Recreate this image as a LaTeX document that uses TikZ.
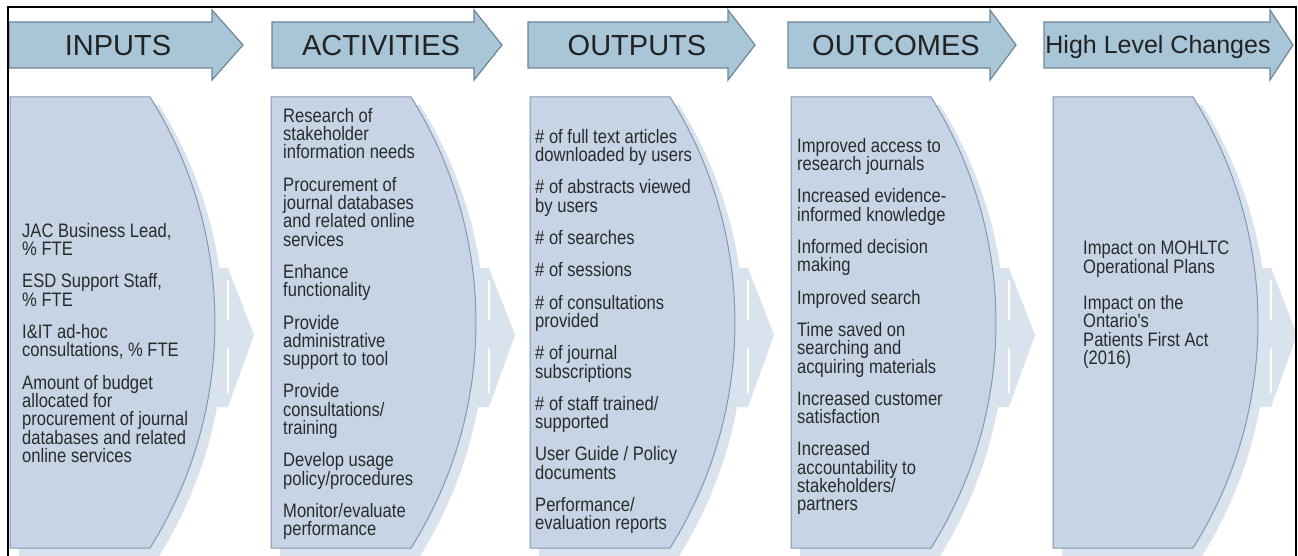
\documentclass[tikz,border=0pt]{standalone}
\usepackage{fontspec}
\setmainfont{Liberation Sans}
\newfontfamily\bodyfont[FakeStretch=0.85]{Liberation Sans}
\definecolor{boxfill}{HTML}{C6D4E5}
\definecolor{boxline}{HTML}{8496B2}
\definecolor{halo}{HTML}{D9E3EE}
\definecolor{hdrfill}{HTML}{A8C6D7}
\definecolor{hdrline}{HTML}{6E8797}
\definecolor{txt}{HTML}{222222}
\definecolor{bodytxt}{HTML}{2A2A2A}
\tikzset{
  hdr/.style={fill=hdrfill, draw=hdrline, line width=1.2pt, line join=miter},
  bx/.style={fill=boxfill, draw=boxline, line width=1pt},
  hl/.style={fill=halo},
  slit/.style={draw=white, line width=2.5pt},
  hdrtext/.style={anchor=base, inner sep=0pt, text=txt, font=\fontsize{29}{30}\selectfont},
  bodytext/.style={anchor=north west, inner sep=0pt, align=left, text=bodytxt,
    font=\bodyfont\fontsize{19.5}{18.3}\selectfont},
}
\newcommand\hdrarrow[3]{%
  \path[hdr] (#1,22) -- (#2,22) -- (#2,10) -- (#3,45) -- (#2,80) -- (#2,68) -- (#1,68) -- cycle;}
\newcommand\colshape[1]{%
  \begin{scope}[shift={(#1,0)}]
    \path[hl] (9,105) -- (149,105) .. controls (235.6,242.4) and (235.6,417.6) .. (149,556) -- (9,556) -- cycle;
    \path[hl] (200,268) -- (218,268) -- (244,335) -- (218,407) -- (200,407) -- cycle;
    \path[slit] (218,280) -- (218,320) (218,348) -- (218,393);
    \path[bx] (0,97) -- (140,97) .. controls (226.6,234.4) and (226.6,410.6) .. (140,548) -- (0,548) -- cycle;
  \end{scope}}
\begin{document}
\begin{tikzpicture}[x=1pt,y=-1pt]
\useasboundingbox (0,0) rectangle (1298,556);
\fill[white] (0,0) rectangle (1298,556);

% column shapes
\colshape{10}
\colshape{271}
\colshape{530}
\colshape{791}
\colshape{1053}

% header arrows
\hdrarrow{9}{212}{243}
\hdrarrow{272}{474}{502}
\hdrarrow{528}{728}{755}
\hdrarrow{788}{990}{1016}
\hdrarrow{1044}{1270}{1293}

\node[hdrtext] (hInputs) at (118,55.5) {INPUTS};
\node[hdrtext] (hActivities) at (381,55.5) {ACTIVITIES};
\node[hdrtext] (hOutputs) at (637,55.5) {OUTPUTS};
\node[hdrtext] (hOutcomes) at (896,55.5) {OUTCOMES};
\node[hdrtext, font=\fontsize{25}{26}\selectfont] (hHigh) at (1158,54) {High Level Changes};

% body texts
\node[bodytext] (tInputs) at (22,223) {JAC Business Lead,\\ \% FTE\\[14pt]
ESD Support Staff,\\ \% FTE\\[14pt]
I\&IT ad-hoc\\ consultations, \% FTE\\[14pt]
Amount of budget\\ allocated for\\ procurement of journal\\ databases and related\\ online services};

\node[bodytext] (tActivities) at (283,108) {Research of\\ stakeholder\\ information needs\\[14pt]
Procurement of\\ journal databases\\ and related online\\ services\\[14pt]
Enhance\\ functionality\\[14pt]
Provide\\ administrative\\ support to tool\\[14pt]
Provide\\ consultations/\\ training\\[14pt]
Develop usage\\ policy/procedures\\[14pt]
Monitor/evaluate\\ performance};

\node[bodytext] (tOutputs) at (535,129) {\# of full text articles\\ downloaded by users\\[14pt]
\# of abstracts viewed\\ by users\\[14pt]
\# of searches\\[14pt]
\# of sessions\\[14pt]
\# of consultations\\ provided\\[14pt]
\# of journal\\ subscriptions\\[14pt]
\# of staff trained/\\ supported\\[14pt]
User Guide / Policy\\ documents\\[14pt]
Performance/\\ evaluation reports};

\node[bodytext] (tOutcomes) at (797,138) {Improved access to\\ research journals\\[14pt]
Increased evidence-\\ informed knowledge\\[14pt]
Informed decision\\ making\\[14pt]
Improved search\\[14pt]
Time saved on\\ searching and\\ acquiring materials\\[14pt]
Increased customer\\ satisfaction\\[14pt]
Increased\\ accountability to\\ stakeholders/\\ partners};

\node[bodytext] (tHigh) at (1083,241) {Impact on MOHLTC\\ Operational Plans\\[18pt]
Impact on the\\ Ontario's\\ Patients First Act\\ (2016)};

% frame
\draw[black, line width=2pt] (8,556) -- (8,7) -- (1296,7) -- (1296,556);
\end{tikzpicture}
\end{document}
